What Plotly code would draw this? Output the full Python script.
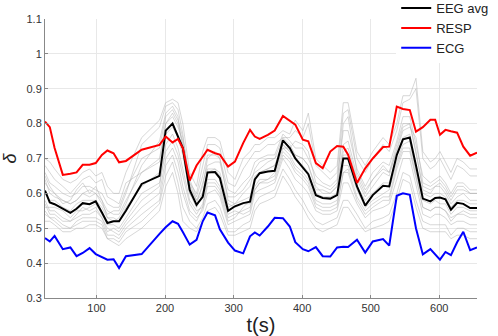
import plotly.graph_objects as go

t = [25,32,39,51,62,71,80,90,99,108,116,125,133,143,166,192,201,211,219,226,
     236,246,255,262,273,280,292,302,314,324,331,338,350,360,372,382,390,401,409,420,
     430,441,451,460,467,480,492,503,518,527,538,547,557,566,576,587,594,601,609,617,
     626,635,645,655]

eeg_avg = [.608,.574,.569,.556,.544,.556,.572,.569,.577,.545,.515,.52,.52,.55,.627,.65,.78,.80,.765,.73,
           .61,.567,.59,.66,.661,.644,.55,.563,.572,.576,.64,.658,.663,.665,.752,.73,.70,.675,.655,.595,
           .587,.585,.595,.70,.70,.62,.565,.595,.622,.62,.71,.755,.76,.68,.585,.577,.587,.588,.583,.553,
           .573,.57,.558,.558]

resp = [.806,.79,.73,.653,.656,.66,.682,.682,.687,.71,.723,.715,.689,.693,.725,.739,.763,.746,.756,.73,
        .637,.68,.705,.725,.715,.711,.677,.691,.744,.782,.763,.756,.768,.78,.822,.808,.797,.754,.749,.687,
        .672,.72,.736,.734,.711,.63,.672,.70,.733,.734,.849,.842,.839,.777,.79,.811,.811,.768,.782,.778,
        .774,.734,.708,.717]

ecg = [.472,.462,.478,.44,.445,.42,.429,.443,.426,.418,.41,.411,.386,.42,.426,.484,.503,.52,.513,.489,
       .453,.467,.52,.545,.537,.497,.459,.436,.428,.477,.488,.479,.505,.53,.529,.505,.46,.44,.434,.446,
       .42,.419,.445,.447,.446,.467,.43,.462,.469,.45,.593,.60,.596,.50,.425,.44,.425,.41,.432,.423,
       .46,.49,.437,.445]

eeg_channels = [
    [.70,.69,.67,.64,.63,.64,.66,.67,.65,.66,.62,.60,.60,.66,.76,.81,.86,.87,.86,.80,.66,.62,.72,.76,.76,.75,.66,.64,.70,.72,.74,.74,.76,.76,.78,.77,.81,.78,.83,.70,.68,.66,.68,.86,.86,.72,.68,.72,.76,.74,.80,.88,.88,.93,.72,.69,.70,.72,.69,.66,.70,.69,.67,.67],
    [.52,.52,.51,.49,.49,.50,.50,.51,.51,.50,.47,.46,.45,.47,.50,.55,.62,.66,.60,.52,.50,.49,.52,.55,.56,.54,.48,.48,.49,.50,.55,.57,.58,.59,.65,.62,.59,.56,.53,.50,.49,.50,.51,.56,.56,.52,.49,.50,.51,.52,.58,.64,.63,.56,.50,.49,.49,.49,.49,.47,.48,.48,.47,.47],
    [.66,.63,.62,.60,.59,.60,.62,.62,.61,.60,.57,.56,.56,.61,.70,.73,.82,.84,.81,.76,.64,.59,.65,.71,.71,.70,.61,.60,.63,.65,.69,.70,.71,.71,.77,.75,.73,.73,.70,.65,.63,.62,.64,.78,.78,.67,.62,.66,.69,.68,.75,.82,.82,.74,.65,.63,.64,.65,.63,.60,.63,.63,.61,.61],
    [.57,.54,.54,.52,.52,.53,.54,.54,.55,.53,.50,.49,.48,.51,.56,.60,.70,.73,.69,.62,.55,.53,.55,.60,.61,.59,.51,.52,.53,.54,.60,.61,.62,.63,.70,.67,.64,.62,.60,.55,.54,.54,.55,.63,.63,.57,.53,.55,.56,.57,.64,.70,.70,.62,.54,.53,.54,.54,.53,.51,.52,.52,.51,.51],
    [.64,.60,.59,.58,.57,.58,.60,.59,.60,.57,.54,.55,.55,.60,.74,.79,.85,.86,.84,.77,.62,.58,.62,.70,.72,.70,.58,.57,.60,.62,.67,.69,.70,.70,.76,.74,.71,.70,.68,.62,.60,.60,.62,.72,.73,.64,.59,.62,.66,.65,.73,.79,.80,.72,.61,.60,.62,.62,.60,.57,.59,.60,.58,.58],
    [.58,.55,.55,.53,.52,.54,.56,.55,.56,.53,.49,.50,.49,.52,.58,.62,.74,.77,.73,.67,.58,.55,.56,.63,.63,.61,.53,.54,.55,.56,.61,.63,.64,.65,.72,.70,.67,.65,.63,.57,.56,.56,.57,.66,.67,.59,.55,.57,.59,.59,.68,.73,.73,.65,.56,.55,.56,.56,.55,.53,.54,.55,.54,.54],
    [.68,.66,.64,.62,.60,.62,.64,.65,.63,.64,.59,.58,.57,.63,.66,.70,.80,.83,.80,.74,.63,.60,.68,.74,.74,.73,.63,.62,.67,.70,.72,.72,.74,.74,.76,.76,.78,.76,.80,.68,.66,.64,.66,.83,.84,.70,.66,.70,.74,.72,.78,.86,.87,.90,.70,.67,.68,.70,.67,.64,.68,.67,.65,.65],
    [.63,.61,.60,.58,.57,.58,.60,.61,.60,.58,.55,.54,.54,.58,.66,.69,.80,.82,.79,.75,.63,.58,.60,.67,.67,.66,.57,.56,.57,.57,.61,.63,.63,.64,.71,.69,.66,.64,.62,.56,.55,.55,.56,.66,.66,.58,.54,.56,.58,.58,.67,.72,.72,.64,.56,.55,.56,.56,.55,.52,.54,.54,.53,.53],
    [.55,.53,.53,.51,.50,.52,.53,.53,.53,.52,.48,.48,.47,.50,.54,.58,.68,.71,.66,.60,.54,.52,.56,.62,.62,.60,.52,.53,.56,.58,.64,.66,.67,.68,.74,.72,.71,.70,.68,.61,.61,.60,.62,.74,.75,.65,.60,.64,.67,.66,.74,.80,.80,.71,.62,.61,.62,.63,.61,.58,.61,.61,.60,.60],
    [.60,.58,.58,.56,.55,.57,.58,.58,.58,.56,.53,.53,.52,.56,.62,.66,.77,.79,.76,.71,.60,.56,.60,.66,.67,.65,.56,.57,.58,.59,.65,.66,.67,.68,.74,.72,.70,.68,.66,.60,.59,.59,.60,.71,.71,.62,.58,.60,.63,.63,.71,.76,.77,.68,.60,.59,.60,.60,.59,.56,.58,.58,.57,.57],
    [.54,.53,.52,.50,.50,.51,.52,.52,.52,.51,.47,.47,.46,.49,.52,.57,.65,.69,.63,.56,.52,.50,.53,.57,.58,.56,.49,.49,.51,.52,.57,.59,.60,.61,.67,.64,.61,.58,.55,.52,.51,.52,.53,.58,.58,.54,.50,.52,.53,.54,.60,.66,.65,.58,.52,.51,.51,.51,.51,.48,.50,.50,.49,.49],
    [.65,.62,.60,.57,.58,.61,.63,.60,.62,.58,.53,.52,.53,.57,.68,.75,.83,.85,.82,.72,.60,.57,.63,.68,.69,.69,.59,.59,.61,.64,.66,.67,.69,.70,.73,.73,.75,.74,.72,.63,.62,.61,.63,.80,.82,.66,.61,.64,.68,.66,.72,.78,.79,.76,.63,.62,.63,.64,.62,.59,.62,.62,.60,.60],
    [.56,.56,.56,.55,.53,.55,.55,.56,.57,.54,.51,.51,.50,.53,.60,.63,.72,.75,.71,.65,.57,.54,.57,.64,.64,.62,.54,.55,.54,.55,.62,.64,.64,.66,.73,.71,.68,.66,.64,.58,.57,.57,.58,.68,.68,.61,.56,.58,.60,.61,.69,.74,.75,.66,.58,.57,.58,.57,.57,.54,.56,.56,.55,.55],
]

y_ticks = [0.3, 0.4, 0.5, 0.6, 0.7, 0.8, 0.9, 1.0, 1.1]
y_tick_labels = ["0.3", "0.4", "0.5", "0.6", "0.7", "0.8", "0.9", "1", "1.1"]
x_ticks = [100, 200, 300, 400, 500, 600]

fig = go.Figure()
for ch in eeg_channels:
    fig.add_trace(go.Scatter(x=t, y=ch, mode="lines", showlegend=False, hoverinfo="skip",
                             line=dict(color="rgba(175,175,175,0.5)", width=1)))
fig.add_trace(go.Scatter(x=t, y=eeg_avg, mode="lines", name="EEG avg",
                         line=dict(color="#000000", width=2)))
fig.add_trace(go.Scatter(x=t, y=resp, mode="lines", name="RESP",
                         line=dict(color="#ff0000", width=2)))
fig.add_trace(go.Scatter(x=t, y=ecg, mode="lines", name="ECG",
                         line=dict(color="#0000ff", width=2)))

fig.update_layout(
    width=498, height=336,
    margin=dict(l=45, r=21, t=19, b=38, autoexpand=False),
    paper_bgcolor="white", plot_bgcolor="white",
    font=dict(family="Liberation Sans, Arial, sans-serif", color="#333333", size=11),
    legend=dict(x=0.813, y=1.093, xanchor="left", yanchor="top",
                bgcolor="rgba(255,255,255,1)", font=dict(size=13, color="#222222"),
                tracegroupgap=0, itemwidth=30, borderwidth=0),
)
fig.update_xaxes(range=[25, 655], tickvals=x_ticks, showgrid=True, gridcolor="#e8e8e8",
                 showline=True, linecolor="#888888", ticks="inside", ticklen=3, tickcolor="#888888",
                 zeroline=False, automargin=False,
                 title=dict(text="t(s)", font=dict(size=20, color="#222222"), standoff=8))
fig.update_yaxes(range=[0.3, 1.1], tickvals=y_ticks, ticktext=y_tick_labels, showgrid=True,
                 gridcolor="#e8e8e8", showline=True, linecolor="#888888", ticks="inside", ticklen=3,
                 tickcolor="#888888", zeroline=False, automargin=False,
                 title=dict(text="<i>δ</i>", font=dict(size=18, color="#222222"), standoff=10))

fig.write_html("out.html", config={"displayModeBar": False},
               post_script="document.body.style.margin='0';")
